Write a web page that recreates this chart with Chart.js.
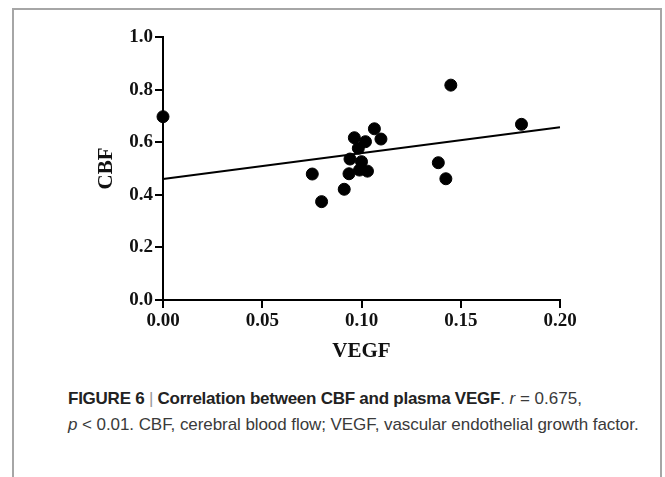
<!DOCTYPE html>
<html>
<head>
<meta charset="utf-8">
<script src="https://cdn.jsdelivr.net/npm/chart.js@4.4.0/dist/chart.umd.min.js"></script>
<style>
  html, body { margin: 0; padding: 0; background: #fff; }
  body { width: 665px; height: 477px; position: relative; overflow: hidden; }
  #page {
    position: absolute; left: 12px; top: 8px; width: 646px; height: 480px;
    border-top: 2px solid #a6a6a6; border-left: 2px solid #a6a6a6; border-right: 2px solid #a6a6a6;
  }
  #wrap { position: absolute; left: -14px; top: -10px; width: 665px; height: 380px; }
  #caption {
    position: absolute; left: 54px; top: 376px; width: 590px;
    font-family: "Liberation Sans", Arial, sans-serif; font-size: 17px;
    line-height: 26px; color: #3a3a3a; white-space: nowrap;
  }
  #caption b { color: #222; letter-spacing: -0.25px; }
  #caption .l2 { letter-spacing: -0.07px; }
  #caption .bar { color: #999; font-weight: normal; }
</style>
</head>
<body>
<div id="page">
  <div id="wrap"><canvas id="myChart"></canvas></div>
  <div id="caption">
    <b>FIGURE 6 <span class="bar">|</span> Correlation between CBF and plasma VEGF</b>. <i>r</i> = 0.675,<br>
    <span class="l2"><i>p</i> &lt; 0.01. CBF, cerebral blood flow; VEGF, vascular endothelial growth factor.</span>
  </div>
</div>
<script>
// valores
const vegf = [0.000, 0.0752, 0.0799, 0.0913, 0.0937, 0.0942, 0.0964, 0.0984, 0.099, 0.100, 0.102, 0.103, 0.1065, 0.1098, 0.1387, 0.1425, 0.145, 0.1806];
const cbf = [0.697, 0.479, 0.374, 0.421, 0.480, 0.536, 0.617, 0.577, 0.494, 0.526, 0.602, 0.490, 0.651, 0.612, 0.522, 0.461, 0.817, 0.668];

// recta de regresión
const fitX = [0.0, 0.2];
const fitY = [0.46, 0.657];

const xTicks = [0, 0.05, 0.1, 0.15, 0.2];
const yTicks = [0, 0.2, 0.4, 0.6, 0.8, 1.0];

const tickFont = { family: "'Liberation Serif', 'Times New Roman', serif", size: 19, weight: "bold" };
const titleFont = { family: "'Liberation Serif', 'Times New Roman', serif", size: 21, weight: "bold" };

const ctx = document.getElementById("myChart");
new Chart(ctx, {
  type: "scatter",
  data: {
    datasets: [
      {
        label: "CBF",
        data: vegf.map((x, i) => ({ x: x, y: cbf[i] })),
        backgroundColor: "#000",
        borderColor: "#000",
        pointRadius: 6,
        pointHoverRadius: 6,
        clip: false,
      },
      {
        type: "line",
        label: "fit",
        data: fitX.map((x, i) => ({ x: x, y: fitY[i] })),
        borderColor: "#000",
        borderWidth: 2,
        pointRadius: 0,
        fill: false,
        clip: false,
      },
    ],
  },
  options: {
    responsive: true,
    maintainAspectRatio: false,
    animation: false,
    layout: { padding: { left: 90, right: 105, top: 37, bottom: 12 } },
    plugins: { legend: { display: false }, tooltip: { enabled: false } },
    scales: {
      x: {
        type: "linear",
        min: 0,
        max: 0.2,
        afterBuildTicks: (scale) => { scale.ticks = xTicks.map((v) => ({ value: v })); },
        afterFit: (scale) => { scale.height = 68; },
        border: { display: true, color: "#000", width: 2 },
        grid: { drawOnChartArea: false, drawTicks: true, tickLength: 8, tickColor: "#000", lineWidth: 2 },
        ticks: {
          color: "#111",
          font: tickFont,
          padding: 2,
          maxRotation: 0,
          callback: (v) => v.toFixed(2),
        },
        title: { display: true, text: "VEGF", color: "#111", font: titleFont, padding: { top: 4, bottom: 4 } },
      },
      y: {
        type: "linear",
        min: 0,
        max: 1,
        afterBuildTicks: (scale) => { scale.ticks = yTicks.map((v) => ({ value: v })); },
        afterFit: (scale) => { scale.width = 73; },
        border: { display: true, color: "#000", width: 2 },
        grid: { drawOnChartArea: false, drawTicks: true, tickLength: 8, tickColor: "#000", lineWidth: 2 },
        ticks: {
          color: "#111",
          font: tickFont,
          padding: 2,
          callback: (v) => v.toFixed(1),
        },
        title: { display: true, text: "CBF", color: "#111", font: titleFont, padding: { top: 4, bottom: 4 } },
      },
    },
  },
});
</script>
</body>
</html>
